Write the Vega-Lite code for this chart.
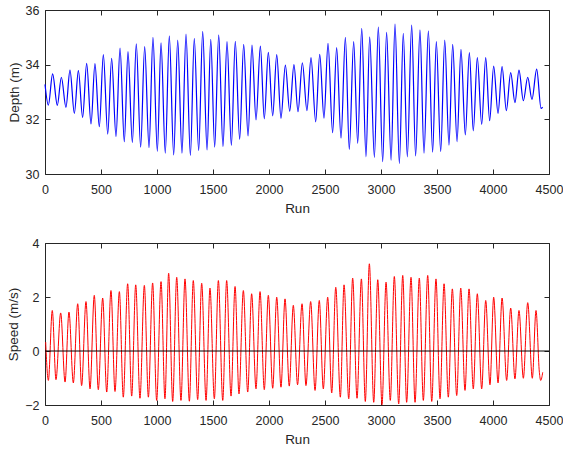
{
  "$schema": "https://vega.github.io/schema/vega-lite/v6.json",
  "padding": {"left": 6, "top": 4, "right": 0, "bottom": 0},
  "background": "white",
  "datasets": {
    "depth": [
      {"run":0,"depth":33.28},{"run":30,"depth":32.52},{"run":68,"depth":33.66},{"run":110,"depth":32.51},{"run":146,"depth":33.54},{"run":187,"depth":32.44},{"run":223,"depth":33.80},{"run":262,"depth":32.22},{"run":298,"depth":33.78},{"run":336,"depth":32.07},{"run":372,"depth":34.05},{"run":411,"depth":31.83},{"run":446,"depth":34.04},{"run":485,"depth":31.73},{"run":521,"depth":34.37},{"run":560,"depth":31.46},{"run":595,"depth":34.23},{"run":634,"depth":31.37},{"run":670,"depth":34.61},{"run":708,"depth":31.18},{"run":741,"depth":34.48},{"run":780,"depth":31.15},{"run":815,"depth":34.76},{"run":854,"depth":30.98},{"run":890,"depth":34.66},{"run":929,"depth":30.96},{"run":964,"depth":35.00},{"run":1003,"depth":30.83},{"run":1036,"depth":34.80},{"run":1074,"depth":30.76},{"run":1110,"depth":35.05},{"run":1149,"depth":30.70},{"run":1185,"depth":34.90},{"run":1223,"depth":30.76},{"run":1259,"depth":35.12},{"run":1298,"depth":30.68},{"run":1333,"depth":34.96},{"run":1372,"depth":30.85},{"run":1408,"depth":35.22},{"run":1447,"depth":30.88},{"run":1480,"depth":34.93},{"run":1515,"depth":30.98},{"run":1551,"depth":35.09},{"run":1589,"depth":31.00},{"run":1625,"depth":34.84},{"run":1664,"depth":31.05},{"run":1699,"depth":34.85},{"run":1738,"depth":31.27},{"run":1774,"depth":34.74},{"run":1813,"depth":31.39},{"run":1848,"depth":34.72},{"run":1884,"depth":31.98},{"run":1923,"depth":34.68},{"run":1958,"depth":32.02},{"run":1994,"depth":34.45},{"run":2033,"depth":32.13},{"run":2069,"depth":34.37},{"run":2107,"depth":32.04},{"run":2146,"depth":33.98},{"run":2185,"depth":32.30},{"run":2223,"depth":34.00},{"run":2259,"depth":32.28},{"run":2298,"depth":34.07},{"run":2339,"depth":32.32},{"run":2375,"depth":34.26},{"run":2417,"depth":31.91},{"run":2453,"depth":34.38},{"run":2491,"depth":32.04},{"run":2527,"depth":34.78},{"run":2568,"depth":31.51},{"run":2604,"depth":34.62},{"run":2643,"depth":31.31},{"run":2682,"depth":35.00},{"run":2717,"depth":30.90},{"run":2756,"depth":34.84},{"run":2792,"depth":31.12},{"run":2828,"depth":35.33},{"run":2866,"depth":30.63},{"run":2899,"depth":35.02},{"run":2941,"depth":30.61},{"run":2976,"depth":35.37},{"run":3015,"depth":30.45},{"run":3050,"depth":35.18},{"run":3090,"depth":30.51},{"run":3125,"depth":35.48},{"run":3164,"depth":30.39},{"run":3199,"depth":35.15},{"run":3235,"depth":30.63},{"run":3274,"depth":35.45},{"run":3309,"depth":30.66},{"run":3348,"depth":35.27},{"run":3384,"depth":30.76},{"run":3423,"depth":35.24},{"run":3461,"depth":30.80},{"run":3494,"depth":34.84},{"run":3533,"depth":30.82},{"run":3569,"depth":34.90},{"run":3607,"depth":31.06},{"run":3640,"depth":34.74},{"run":3679,"depth":31.18},{"run":3714,"depth":34.56},{"run":3753,"depth":31.43},{"run":3789,"depth":34.44},{"run":3824,"depth":31.58},{"run":3860,"depth":34.26},{"run":3899,"depth":31.82},{"run":3935,"depth":34.26},{"run":3970,"depth":31.95},{"run":4006,"depth":33.95},{"run":4045,"depth":32.22},{"run":4081,"depth":33.93},{"run":4119,"depth":32.32},{"run":4158,"depth":33.71},{"run":4196,"depth":32.61},{"run":4232,"depth":33.80},{"run":4271,"depth":32.68},{"run":4310,"depth":33.54},{"run":4348,"depth":32.73},{"run":4390,"depth":33.84},{"run":4429,"depth":32.40},{"run":4443,"depth":32.45}
    ],
    "speed": [
      {"run":6,"speed":0.33},{"run":30,"speed":-1.09},{"run":65,"speed":1.50},{"run":98,"speed":-1.06},{"run":140,"speed":1.41},{"run":179,"speed":-1.15},{"run":214,"speed":1.44},{"run":253,"speed":-1.18},{"run":292,"speed":1.75},{"run":327,"speed":-1.28},{"run":366,"speed":1.83},{"run":402,"speed":-1.40},{"run":440,"speed":2.06},{"run":476,"speed":-1.43},{"run":515,"speed":1.96},{"run":551,"speed":-1.52},{"run":589,"speed":2.24},{"run":625,"speed":-1.50},{"run":664,"speed":2.20},{"run":699,"speed":-1.71},{"run":738,"speed":2.49},{"run":774,"speed":-1.67},{"run":810,"speed":2.45},{"run":848,"speed":-1.75},{"run":887,"speed":2.43},{"run":923,"speed":-1.71},{"run":961,"speed":2.52},{"run":997,"speed":-1.83},{"run":1036,"speed":2.57},{"run":1071,"speed":-1.77},{"run":1104,"speed":2.88},{"run":1140,"speed":-1.87},{"run":1176,"speed":2.73},{"run":1214,"speed":-1.83},{"run":1250,"speed":2.67},{"run":1289,"speed":-1.86},{"run":1324,"speed":2.61},{"run":1363,"speed":-1.80},{"run":1399,"speed":2.51},{"run":1438,"speed":-1.83},{"run":1473,"speed":2.33},{"run":1512,"speed":-1.77},{"run":1548,"speed":2.61},{"run":1587,"speed":-1.83},{"run":1622,"speed":2.61},{"run":1661,"speed":-1.67},{"run":1697,"speed":2.39},{"run":1732,"speed":-1.59},{"run":1771,"speed":2.24},{"run":1810,"speed":-1.52},{"run":1845,"speed":2.12},{"run":1884,"speed":-1.40},{"run":1920,"speed":2.20},{"run":1958,"speed":-1.43},{"run":1994,"speed":2.06},{"run":2033,"speed":-1.38},{"run":2069,"speed":1.99},{"run":2107,"speed":-1.34},{"run":2143,"speed":1.93},{"run":2181,"speed":-1.30},{"run":2217,"speed":1.69},{"run":2255,"speed":-1.25},{"run":2295,"speed":1.75},{"run":2330,"speed":-1.28},{"run":2372,"speed":1.83},{"run":2411,"speed":-1.46},{"run":2449,"speed":1.87},{"run":2485,"speed":-1.40},{"run":2524,"speed":1.99},{"run":2560,"speed":-1.55},{"run":2596,"speed":2.36},{"run":2637,"speed":-1.71},{"run":2670,"speed":2.45},{"run":2712,"speed":-1.77},{"run":2747,"speed":2.70},{"run":2786,"speed":-1.75},{"run":2825,"speed":2.67},{"run":2860,"speed":-1.87},{"run":2896,"speed":3.23},{"run":2935,"speed":-1.90},{"run":2971,"speed":2.64},{"run":3009,"speed":-1.99},{"run":3045,"speed":2.55},{"run":3083,"speed":-1.83},{"run":3119,"speed":2.76},{"run":3158,"speed":-1.96},{"run":3194,"speed":2.80},{"run":3229,"speed":-1.90},{"run":3268,"speed":2.73},{"run":3304,"speed":-1.90},{"run":3342,"speed":2.70},{"run":3378,"speed":-1.83},{"run":3417,"speed":2.80},{"run":3453,"speed":-1.87},{"run":3491,"speed":2.67},{"run":3527,"speed":-1.77},{"run":3563,"speed":2.49},{"run":3601,"speed":-1.71},{"run":3637,"speed":2.30},{"run":3676,"speed":-1.65},{"run":3712,"speed":2.33},{"run":3750,"speed":-1.46},{"run":3786,"speed":2.30},{"run":3824,"speed":-1.40},{"run":3860,"speed":2.12},{"run":3899,"speed":-1.40},{"run":3935,"speed":1.87},{"run":3973,"speed":-1.25},{"run":4006,"speed":1.99},{"run":4045,"speed":-1.18},{"run":4081,"speed":1.96},{"run":4122,"speed":-1.09},{"run":4158,"speed":1.59},{"run":4196,"speed":-1.03},{"run":4232,"speed":1.50},{"run":4271,"speed":-1.01},{"run":4310,"speed":1.79},{"run":4351,"speed":-1.01},{"run":4384,"speed":1.50},{"run":4414,"speed":-0.79},{"run":4426,"speed":-1.09},{"run":4444,"speed":-0.79}
    ],
    "zero": [{"y": 0}]
  },
  "bounds": "flush",
  "spacing": 69,
  "vconcat": [
    {
      "width": 504,
      "height": 164,
      "data": {"name": "depth"},
      "layer": [
        {
          "mark": {"type": "line", "color": "#0000ff", "strokeWidth": 1.2, "interpolate": "monotone"},
          "encoding": {
            "x": {"field": "run", "type": "quantitative", "scale": {"domain": [0, 4500], "nice": false, "zero": false},
                  "axis": {"orient": "bottom", "title": "Run", "format": "d", "values": [0,500,1000,1500,2000,2500,3000,3500,4000,4500], "labelPadding": 14, "titlePadding": 6}},
            "y": {"field": "depth", "type": "quantitative", "scale": {"domain": [30, 36], "nice": false, "zero": false},
                  "axis": {"orient": "left", "title": "Depth (m)", "format": "d", "values": [30,32,34,36], "labelPadding": 11, "titlePadding": 4}}
          }
        },
        {
          "mark": {"type": "line", "opacity": 0},
          "encoding": {
            "x": {"field": "run", "type": "quantitative", "axis": {"orient": "top", "title": null, "labels": false, "values": [0,500,1000,1500,2000,2500,3000,3500,4000,4500]}},
            "y": {"field": "depth", "type": "quantitative", "axis": {"orient": "right", "title": null, "labels": false, "values": [30,32,34,36]}}
          }
        }
      ],
      "resolve": {"axis": {"x": "independent", "y": "independent"}}
    },
    {
      "width": 504,
      "height": 162,
      "layer": [
        {
          "data": {"name": "speed"},
          "mark": {"type": "line", "color": "#ff0000", "strokeWidth": 1, "interpolate": "monotone"},
          "encoding": {
            "x": {"field": "run", "type": "quantitative", "scale": {"domain": [0, 4500], "nice": false, "zero": false},
                  "axis": {"orient": "bottom", "title": "Run", "format": "d", "values": [0,500,1000,1500,2000,2500,3000,3500,4000,4500], "labelPadding": 14, "titlePadding": 6}},
            "y": {"field": "speed", "type": "quantitative", "scale": {"domain": [-2, 4], "nice": false, "zero": false},
                  "axis": {"orient": "left", "title": "Speed (m/s)", "format": "d", "values": [-2,0,2,4], "labelPadding": 11, "titlePadding": 4}}
          }
        },
        {
          "data": {"name": "speed"},
          "mark": {"type": "line", "opacity": 0},
          "encoding": {
            "x": {"field": "run", "type": "quantitative", "axis": {"orient": "top", "title": null, "labels": false, "values": [0,500,1000,1500,2000,2500,3000,3500,4000,4500]}},
            "y": {"field": "speed", "type": "quantitative", "axis": {"orient": "right", "title": null, "labels": false, "values": [-2,0,2,4]}}
          }
        },
        {
          "data": {"name": "zero"},
          "mark": {"type": "rule", "color": "#000000", "strokeWidth": 1},
          "encoding": {"y": {"field": "y", "type": "quantitative", "axis": null}}
        }
      ],
      "resolve": {"axis": {"x": "independent", "y": "independent"}}
    }
  ],
  "config": {
    "view": {"stroke": null},
    "axis": {
      "grid": false,
      "domainColor": "#262626",
      "domainWidth": 1,
      "tickColor": "#262626",
      "tickSize": -5,
      "labelColor": "#262626",
      "titleColor": "#262626",
      "labelFont": "Liberation Sans",
      "titleFont": "Liberation Sans",
      "labelFontSize": 12.5,
      "titleFontSize": 13.5,
      "titleFontWeight": "normal",
      "labelFlush": false,
      "labelOverlap": false
    }
  }
}
